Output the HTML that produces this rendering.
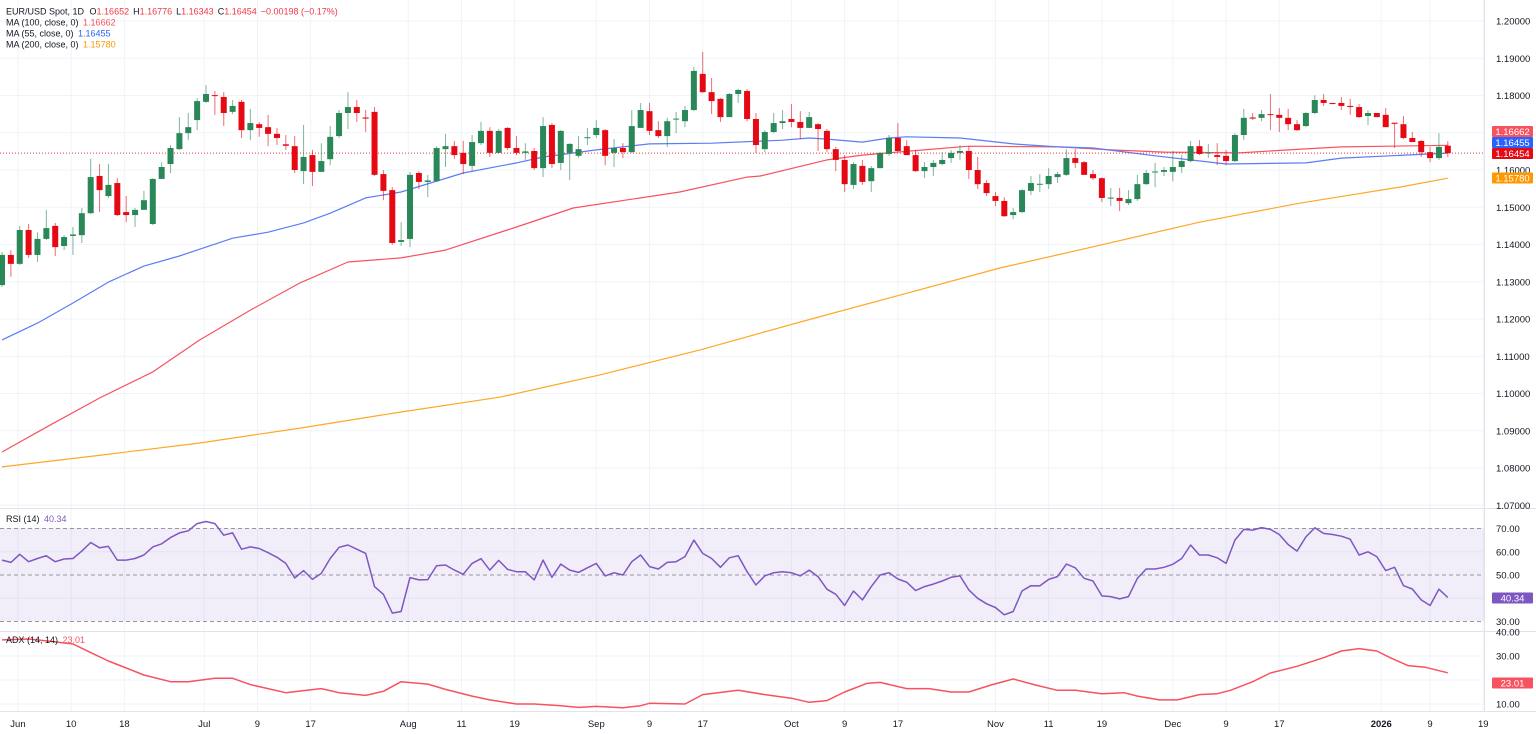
<!DOCTYPE html>
<html><head><meta charset="utf-8"><style>
html,body{margin:0;padding:0;background:#fff;}
svg{display:block;font-family:"Liberation Sans",sans-serif;}
</style></head><body>
<svg id="chart" width="1536" height="734" viewBox="0 0 1536 734" xmlns="http://www.w3.org/2000/svg">
<g id="grid"></g>
<rect id="rsiband" x="0" y="528" width="1484" height="93" fill="#7e57c2" fill-opacity="0.1"/>
<g id="panes"></g>
<g id="ma"></g>
<g id="candles"></g>
<g id="ind"></g>
<g id="axes"></g>
<g id="legend" font-size="9">
<text x="6" y="14.5" fill="#131722">EUR/USD Spot, 1D <tspan dx="3">O</tspan><tspan fill="#f23645">1.16652</tspan><tspan dx="4">H</tspan><tspan fill="#f23645">1.16776</tspan><tspan dx="4">L</tspan><tspan fill="#f23645">1.16343</tspan><tspan dx="4">C</tspan><tspan fill="#f23645">1.16454</tspan><tspan dx="4" fill="#f23645">−0.00198 (−0.17%)</tspan></text>
<text x="6" y="25.5" fill="#131722">MA (100, close, 0) <tspan dx="2" fill="#f7525f">1.16662</tspan></text>
<text x="6" y="36.5" fill="#131722">MA (55, close, 0) <tspan dx="2" fill="#2962ff">1.16455</tspan></text>
<text x="6" y="47.5" fill="#131722">MA (200, close, 0) <tspan dx="2" fill="#ff9800">1.15780</tspan></text>
<text x="6" y="522" fill="#131722">RSI (14) <tspan dx="2" fill="#7e57c2">40.34</tspan></text>
<text x="6" y="643" fill="#131722">ADX (14, 14) <tspan dx="2" fill="#f7525f">23.01</tspan></text>
</g>
</svg>
<script>
const opens=[1.1291,1.1372,1.1348,1.1439,1.1372,1.1415,1.1450,1.1396,1.1423,1.1425,1.1484,1.1584,1.1530,1.1565,1.1487,1.1479,1.1493,1.1455,1.1576,1.1616,1.1656,1.1699,1.1734,1.1783,1.1801,1.1796,1.1756,1.1783,1.1707,1.1723,1.1715,1.1697,1.1669,1.1664,1.1597,1.1640,1.1595,1.1629,1.1691,1.1753,1.1769,1.1741,1.1756,1.1589,1.1546,1.1407,1.1415,1.1592,1.1568,1.1570,1.1656,1.1664,1.1646,1.1611,1.1672,1.1705,1.1646,1.1713,1.1659,1.1646,1.1651,1.1605,1.1721,1.1619,1.1646,1.1638,1.1686,1.1694,1.1707,1.1646,1.1659,1.1648,1.1713,1.1758,1.1707,1.1691,1.1736,1.1731,1.1761,1.1858,1.1809,1.1791,1.1742,1.1804,1.1812,1.1737,1.1656,1.1702,1.1726,1.1737,1.1729,1.1713,1.1723,1.1705,1.1656,1.1627,1.1560,1.1611,1.1570,1.1605,1.1643,1.1686,1.1664,1.1640,1.1597,1.1608,1.1616,1.1632,1.1646,1.1651,1.1600,1.1565,1.1530,1.1517,1.1479,1.1487,1.1544,1.1561,1.1562,1.1581,1.1587,1.1632,1.1621,1.1589,1.1578,1.1524,1.1525,1.1511,1.1522,1.1562,1.1594,1.1595,1.1595,1.1608,1.1624,1.1664,1.1645,1.1640,1.1638,1.1624,1.1694,1.1741,1.1740,1.1750,1.1748,1.1740,1.1723,1.1718,1.1753,1.1788,1.1780,1.1780,1.1772,1.1769,1.1745,1.1753,1.1748,1.1727,1.1723,1.1686,1.1678,1.1648,1.1632,1.16652];
const highs=[1.1380,1.1385,1.1450,1.1455,1.1433,1.1493,1.1458,1.1425,1.1447,1.1498,1.1630,1.1616,1.1616,1.1578,1.1530,1.1498,1.1544,1.1578,1.1621,1.1667,1.1742,1.1753,1.1793,1.1828,1.1812,1.1809,1.1788,1.1788,1.1764,1.1729,1.1748,1.1713,1.1694,1.1691,1.1721,1.1654,1.1672,1.1718,1.1761,1.1809,1.1788,1.1761,1.1769,1.1600,1.1554,1.1460,1.1595,1.1597,1.1587,1.1664,1.1697,1.1678,1.1678,1.1694,1.1729,1.1715,1.1710,1.1715,1.1691,1.1672,1.1659,1.1742,1.1726,1.1707,1.1672,1.1691,1.1713,1.1734,1.1710,1.1683,1.1672,1.1761,1.1780,1.1780,1.1731,1.1740,1.1756,1.1772,1.1877,1.1917,1.1847,1.1793,1.1807,1.1817,1.1817,1.1753,1.1707,1.1753,1.1761,1.1777,1.1758,1.1756,1.1726,1.1710,1.1662,1.1640,1.1621,1.1627,1.1611,1.1648,1.1694,1.1726,1.1680,1.1654,1.1621,1.1627,1.1648,1.1654,1.1667,1.1664,1.1635,1.1573,1.1541,1.1527,1.1498,1.1549,1.1584,1.1589,1.1605,1.1595,1.1656,1.1656,1.1624,1.1600,1.1581,1.1552,1.1552,1.1546,1.1587,1.1600,1.1619,1.1608,1.1651,1.1640,1.1678,1.1680,1.1670,1.1672,1.1654,1.1699,1.1764,1.1753,1.1761,1.1804,1.1766,1.1764,1.1734,1.1756,1.1801,1.1804,1.1780,1.1796,1.1791,1.1777,1.1761,1.1753,1.1766,1.1726,1.1745,1.1702,1.1680,1.1662,1.1699,1.16776];
const lows=[1.1286,1.1313,1.1345,1.1364,1.1353,1.1412,1.1369,1.1385,1.1372,1.1404,1.1482,1.1487,1.1525,1.1476,1.1460,1.1447,1.1493,1.1452,1.1576,1.1592,1.1654,1.1680,1.1707,1.1780,1.1748,1.1718,1.1750,1.1686,1.1680,1.1689,1.1664,1.1667,1.1654,1.1592,1.1562,1.1557,1.1595,1.1613,1.1686,1.1710,1.1729,1.1702,1.1584,1.1519,1.1399,1.1396,1.1393,1.1549,1.1527,1.1568,1.1608,1.1630,1.1589,1.1597,1.1667,1.1635,1.1646,1.1654,1.1640,1.1627,1.1600,1.1581,1.1605,1.1600,1.1573,1.1632,1.1667,1.1686,1.1613,1.1608,1.1632,1.1646,1.1713,1.1694,1.1686,1.1662,1.1699,1.1715,1.1758,1.1807,1.1750,1.1729,1.1777,1.1780,1.1731,1.1646,1.1648,1.1699,1.1710,1.1715,1.1683,1.1713,1.1651,1.1648,1.1597,1.1541,1.1549,1.1560,1.1541,1.1605,1.1638,1.1648,1.1640,1.1595,1.1578,1.1584,1.1613,1.1619,1.1627,1.1576,1.1549,1.1530,1.1503,1.1474,1.1468,1.1484,1.1533,1.1541,1.1549,1.1565,1.1584,1.1605,1.1587,1.1573,1.1514,1.1503,1.1490,1.1506,1.1517,1.1560,1.1554,1.1584,1.1570,1.1592,1.1621,1.1640,1.1632,1.1613,1.1613,1.1621,1.1680,1.1734,1.1731,1.1707,1.1702,1.1707,1.1705,1.1715,1.1750,1.1772,1.1777,1.1761,1.1748,1.1740,1.1721,1.1742,1.1715,1.1659,1.1683,1.1675,1.1635,1.1621,1.1627,1.16343];
const closes=[1.1372,1.1348,1.1439,1.1372,1.1415,1.1444,1.1393,1.1420,1.1427,1.1484,1.1581,1.1546,1.1560,1.1479,1.1479,1.1493,1.1519,1.1576,1.1608,1.1659,1.1699,1.1715,1.1785,1.1804,1.1799,1.1753,1.1772,1.1707,1.1726,1.1713,1.1697,1.1686,1.1665,1.1600,1.1635,1.1595,1.1624,1.1689,1.1753,1.1769,1.1753,1.1738,1.1587,1.1544,1.1404,1.1412,1.1587,1.1568,1.1572,1.1659,1.1664,1.1640,1.1616,1.1675,1.1705,1.1646,1.1705,1.1659,1.1646,1.1650,1.1605,1.1718,1.1616,1.1705,1.1670,1.1656,1.1688,1.1713,1.1638,1.1659,1.1648,1.1718,1.1761,1.1705,1.1691,1.1731,1.1738,1.1761,1.1866,1.1809,1.1785,1.1742,1.1804,1.1815,1.1737,1.1667,1.1702,1.1726,1.1731,1.1729,1.1713,1.1742,1.1710,1.1656,1.1627,1.1562,1.1616,1.1568,1.1605,1.1646,1.1686,1.1651,1.1640,1.1597,1.1608,1.1619,1.1627,1.1646,1.1651,1.1600,1.1562,1.1538,1.1517,1.1476,1.1487,1.1546,1.1565,1.1563,1.1584,1.1589,1.1632,1.1619,1.1587,1.1578,1.1525,1.1526,1.1517,1.1522,1.1562,1.1592,1.1596,1.1600,1.1608,1.1624,1.1664,1.1643,1.1647,1.1635,1.1624,1.1694,1.1740,1.1738,1.1750,1.1748,1.1740,1.1723,1.1707,1.1753,1.1788,1.1780,1.1777,1.1772,1.1769,1.1742,1.1753,1.1742,1.1715,1.1724,1.1686,1.1675,1.1648,1.1632,1.1662,1.16454];
const ma55Idx=[0,4,8,12,16,20,22,26,30,34,37,41,45,52,58,61,67,73,80,88,91,93,97,100,102,108,114,119,123,130,138,147,151,163];
const ma55Val=[1.1144,1.1189,1.1243,1.1299,1.1342,1.1369,1.1385,1.1417,1.1433,1.1458,1.1484,1.1525,1.1541,1.1592,1.1619,1.1635,1.1654,1.1670,1.1672,1.1680,1.1686,1.1683,1.1675,1.1686,1.1689,1.1686,1.1670,1.1662,1.1659,1.1638,1.1616,1.1619,1.1632,1.16455];
const ma100Idx=[0,5.4,11,17,22.3,28,33.6,39,45,50,58,64.4,76.4,84,85.5,93,97,102.4,109,119.3,125,131,139.5,145,151,163];
const ma100Val=[1.0843,1.0915,1.0988,1.1058,1.1144,1.1224,1.1297,1.1353,1.1364,1.1385,1.1447,1.1498,1.1541,1.1581,1.1584,1.1627,1.1640,1.1651,1.1664,1.1662,1.1654,1.1648,1.1646,1.1654,1.1662,1.16662];
const ma200Idx=[0,11.3,22.3,33.6,44.9,56.1,67.4,78.7,90,101.2,112.5,123.8,135,146.3,157.6,163];
const ma200Val=[1.0803,1.0835,1.0867,1.0907,1.0950,1.0990,1.1050,1.1117,1.1192,1.1264,1.1337,1.1398,1.1460,1.1511,1.1554,1.1578];
const rsiVals=[56.4,55.4,58.9,55.7,57.1,58.3,55.7,56.9,57.1,60.3,64,61.7,62.3,56.4,56.4,57.1,58.6,62.1,63.4,66.1,68.1,69,72.1,73,72.1,67.1,68.1,61.1,62.1,61.4,59.6,57.6,55,48.7,51.9,48.1,50.7,57.1,61.9,62.9,61.1,59.3,45,41.7,33.6,34.3,48.9,47.9,48,54,54.3,52.1,50.3,55,57,52.1,56.3,52.4,51.4,51.4,47.9,56.4,49,54.7,52.1,51.1,53.1,55,49.6,51,50,55.7,58.6,53.6,52.6,55.4,55.7,57.9,65,59.3,57.1,53.3,57.4,58.3,51.4,45.7,49.6,51,51.4,51,49.6,52.1,49.3,43.9,41.7,36.9,43.1,39.3,45,50,51,48.3,46.9,43.3,45,46.1,47.4,49,49.6,43.6,40,37.6,36,32.9,34.3,43.1,45.4,45.3,48.1,49.3,54.7,53.1,48.6,47.4,41,40.7,39.7,40.7,48.6,52.6,52.6,53.3,54.6,57.1,62.9,58.6,58.6,57.4,55,65,69.6,69.3,70.4,69.6,67.4,63.1,60.3,66.4,70.3,67.9,67.4,66.7,65.4,58.6,60,57.9,51.9,53.3,45.4,44,39.3,36.9,43.9,40.34];
const adxIdx=[0,3,5.5,8,10,12,14,16,19,21,24,26,28,32,34,36,38,41,43,45,48,50,53,55,58,60,63,65,67,70,72,73,77,79,83,86,89,91,93,95,97.5,99,102,104.5,107,109,111.5,114,116.5,119,121,124,126.5,128,130.5,132.5,135,137,138.5,141,143,144.5,146,149,151,153,155,156.5,158.5,160.5,163];
const adxVal=[36.7,37.1,36.1,35,31.4,27.9,25,22.1,19.3,19.3,20.7,20.7,18.1,14.7,15.6,16.4,14.7,13.6,15.3,19.3,18.3,16.1,13.3,11.7,10,10,9.3,8.6,9,8.4,9.3,10.3,10,13.9,15.7,13.9,12.4,10.7,11.4,15,18.6,19,16.4,16.4,15,15,17.9,20.4,17.9,15.7,15.7,14.3,14.7,13.3,11.7,11.7,13.9,14.3,15.7,19.3,22.9,24.3,25.7,29.3,32.1,33.1,32.1,29.3,26,25.3,23.01];
const priceTicks=[1.07,1.08,1.09,1.10,1.11,1.12,1.13,1.14,1.15,1.16,1.17,1.18,1.19,1.20];
const rsiTicks=[70,60,50,30];
const adxTicks=[40,30,10];
const dateLabels=["Jun","10","18","Jul","9","17","Aug","11","19","Sep","9","17","Oct","9","17","Nov","11","19","Dec","9","17","2026","9","19"];
const dateIdx=[1.8,7.8,13.8,22.8,28.8,34.8,45.8,51.8,57.8,67,73,79,89,95,101,112,118,124,132,138,144,155.5,161,167];

const NS="http://www.w3.org/2000/svg";
const AX=1484;
const xB=i=>2+i*8.87;
const yP=p=>21+(1.2-p)*3725;
const yR=v=>575-(v-50)*2.325;
const yA=v=>680-(v-20)*2.4;
function mk(parent,tag,attrs){const e=document.createElementNS(NS,tag);for(const k in attrs)e.setAttribute(k,attrs[k]);document.getElementById(parent).appendChild(e);return e;}

priceTicks.forEach(p=>{const l=mk('grid','line',{x1:0,x2:AX,y1:yP(p),y2:yP(p),stroke:'#f0f3fa'});

});
[60,40].forEach(v=>{const l=mk('grid','line',{x1:0,x2:AX,y1:yR(v),y2:yR(v),stroke:'#f0f3fa'});

});
[30,20,10].forEach(v=>{const l=mk('grid','line',{x1:0,x2:AX,y1:yA(v),y2:yA(v),stroke:'#f0f3fa'});

});
dateIdx.forEach(i=>{const x=xB(i);if(x>AX)return;const l=mk('grid','line',{x1:x,x2:x,y1:0,y2:711,stroke:'#f0f3fa'});

});

[508,631,711].forEach(y=>{const l=mk('panes','line',{x1:0,x2:1536,y1:y+0.5,y2:y+0.5,stroke:'#e0e3eb'});

});
const vb=mk('panes','line',{x1:AX+0.5,x2:AX+0.5,y1:0,y2:711,stroke:'#e0e3eb'});



function poly(parent,idx,val,yf,color,name,w){const pts=idx.map((i,k)=>xB(i).toFixed(1)+','+yf(val[k]).toFixed(1)).join(' ');
const e=mk(parent,'polyline',{points:pts,fill:'none',stroke:color,'stroke-width':w||1.2,'stroke-linejoin':'round'});

}
poly('ma',ma200Idx,ma200Val,yP,'#ffa726','ma200-line');
poly('ma',ma100Idx,ma100Val,yP,'#f7525f','ma100-line');
poly('ma',ma55Idx,ma55Val,yP,'#5b7cf6','ma55-line');

const cp=mk('ma','line',{x1:0,x2:AX,y1:yP(closes[closes.length-1]),y2:yP(closes[closes.length-1]),stroke:'#f23645','stroke-dasharray':'1 2','stroke-width':1});



closes.forEach((c,i)=>{const o=opens[i],up=c>=o,col=up?'#2a8758':'#e50914',x=xB(i);
const w=mk('candles','line',{x1:x,x2:x,y1:yP(highs[i]),y2:yP(lows[i]),stroke:col,'stroke-opacity':0.6,'stroke-width':1});


const t=yP(Math.max(o,c)),b=yP(Math.min(o,c));
const r=mk('candles','rect',{x:x-3,y:t,width:6,height:Math.max(1,b-t),fill:col});

});

[70,50,30].forEach(v=>{const l=mk('ind','line',{x1:0,x2:AX,y1:yR(v),y2:yR(v),stroke:'#9598a1','stroke-dasharray':'4 3'});

});
poly('ind',rsiVals.map((v,i)=>i),rsiVals,yR,'#7e57c2','rsi-line',1.5);
poly('ind',adxIdx,adxVal,yA,'#f7525f','adx-line',1.5);

function txt(parent,x,y,s,fill,name,anchor){const t=mk(parent,'text',{x:x,y:y,'font-size':9.5,fill:fill,'text-anchor':anchor||'start'});t.textContent=s;

return t;}
priceTicks.forEach(p=>{if(p===1.17)return;txt('axes',1496,yP(p)+3.5,p.toFixed(5),'#131722','price-tick-label');});
rsiTicks.forEach(v=>txt('axes',1496,yR(v)+3.5,v.toFixed(2),'#131722','rsi-tick-label'));
adxTicks.forEach(v=>txt('axes',1496,yA(v)+3.5,v.toFixed(2),'#131722','adx-tick-label'));
dateLabels.forEach((s,k)=>{const x=xB(dateIdx[k]);if(x>1500)return;const t=txt('axes',x,727,s,'#131722','date-tick-label','middle');if(s==='2026')t.setAttribute('font-weight','bold');});

function tag(y,s,bg,name){const r=mk('axes','rect',{x:1492,y:y-5.5,width:41,height:11,fill:bg,rx:1});


txt('axes',1512.5,y+3.5,s,'#fff',name,'middle');}
tag(131.5,'1.16662','#f7525f','ma100-price-tag');
tag(142.5,'1.16455','#2962ff','ma55-price-tag');
tag(153.5,'1.16454','#e50914','last-price-tag');
tag(178,'1.15780','#ff9800','ma200-price-tag');
tag(598,'40.34','#7e57c2','rsi-value-tag');
tag(683,'23.01','#f7525f','adx-value-tag');
</script>
</body></html>
